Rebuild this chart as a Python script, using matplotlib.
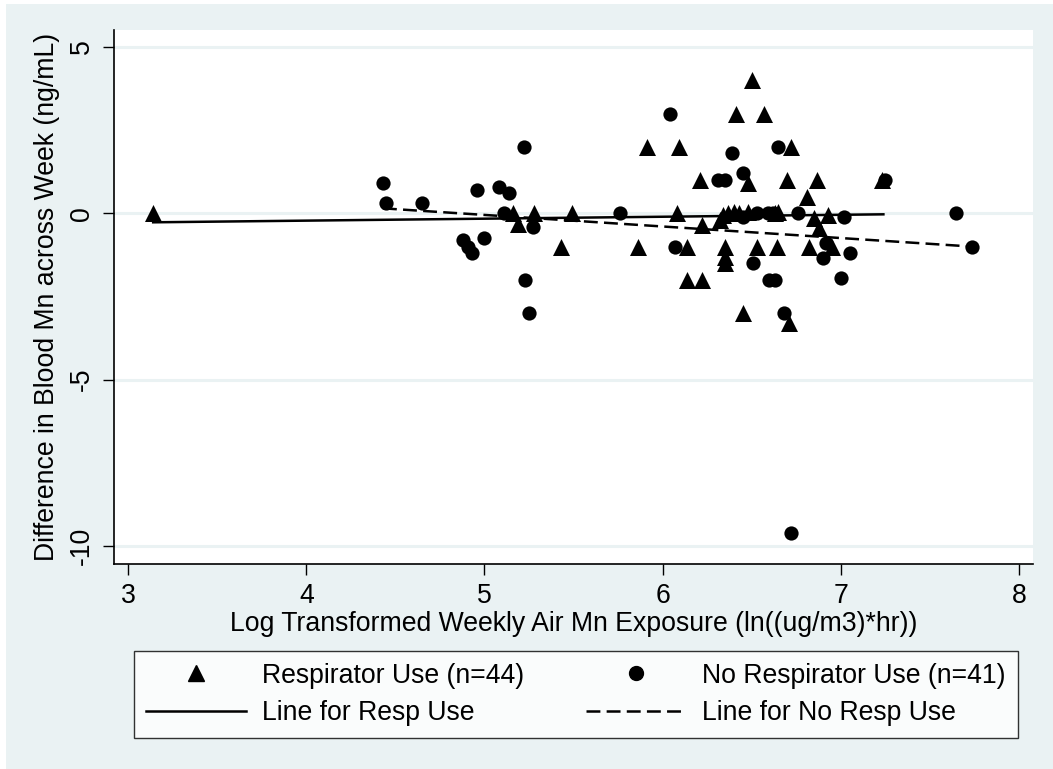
import matplotlib.pyplot as plt
from matplotlib.lines import Line2D
from matplotlib.patches import Rectangle

# respirator use (triangles)
resp_x = [3.14, 5.16, 5.19, 5.28, 5.43, 5.49, 5.86, 5.91, 6.08, 6.09,
          6.14, 6.14, 6.21, 6.22, 6.22, 6.32, 6.34, 6.35, 6.35, 6.35,
          6.37, 6.40, 6.41, 6.43, 6.45, 6.48, 6.48, 6.50, 6.53, 6.57,
          6.63, 6.64, 6.65, 6.70, 6.71, 6.72, 6.81, 6.82, 6.85, 6.87,
          6.88, 6.93, 6.95, 7.23]
resp_y = [0, 0, -0.33, 0, -1, 0, -1, 2, 0, 2,
          -1, -2, 1, -2, -0.35, -0.2, -0.05, -1, -1.3, -1.5,
          0, 0.05, 3, 0, -3, 0.9, 0.05, 4, -1, 3,
          0, -1, 0.05, 1, -3.3, 2, 0.5, -1, -0.15, 1,
          -0.45, -0.05, -1, 1]

# no respirator use (circles)
nores_x = [4.43, 4.45, 4.65, 4.88, 4.91, 4.93, 4.96, 5.00, 5.08, 5.11,
           5.14, 5.22, 5.23, 5.25, 5.27, 5.76, 6.04, 6.07, 6.31, 6.35,
           6.39, 6.45, 6.45, 6.51, 6.53, 6.59, 6.60, 6.62, 6.63, 6.65,
           6.68, 6.72, 6.76, 6.90, 6.92, 7.00, 7.02, 7.05, 7.25, 7.65,
           7.74]
nores_y = [0.9, 0.3, 0.3, -0.8, -1.0, -1.2, 0.7, -0.75, 0.8, 0,
           0.6, 2, -2, -3, -0.4, 0, 3, -1, 1, 1,
           1.8, 1.2, -0.12, -1.5, 0, 0, -2, 0, -2, 2,
           -3, -9.6, 0, -1.35, -0.9, -1.95, -0.12, -1.2, 1, 0,
           -1]

# fitted lines (endpoints)
fit_resp_x = [3.14, 7.24]
fit_resp_y = [-0.27, -0.03]
fit_nores_x = [4.43, 7.74]
fit_nores_y = [0.15, -1.0]

x_ticks = [3, 4, 5, 6, 7, 8]
y_ticks = [5, 0, -5, -10]

bg = '#eaf2f3'
fs = 19.2
plt.rcParams['font.family'] = ['Liberation Sans', 'DejaVu Sans']

fig = plt.figure(figsize=(10.53, 7.69), dpi=100, facecolor='white')
fig.patches.append(Rectangle((6 / 1053, 0), 1, 1 - 4 / 769, transform=fig.transFigure,
                             facecolor=bg, edgecolor='none', zorder=-10))
ax = fig.add_axes([114 / 1053, 1 - 564 / 769, (1033 - 114) / 1053, (564 - 30) / 769])
ax.set_facecolor('white')

for y in y_ticks:
    ax.axhline(y, color=bg, lw=2.2, zorder=0)

lw = 1.8
dash = (0, (10 / lw, 4.5 / lw))
ax.scatter(resp_x, resp_y, marker='^', s=150, color='black', linewidths=0, zorder=3)
ax.scatter(nores_x, nores_y, marker='o', s=105, color='black', linewidths=0, zorder=3)
ax.plot(fit_resp_x, fit_resp_y, color='black', lw=lw, zorder=2)
ax.plot(fit_nores_x, fit_nores_y, color='black', lw=lw, zorder=2, linestyle=dash)

ax.set_xlim(2.92, 8.08)
ax.set_ylim(-10.54, 5.51)
ax.set_xticks(x_ticks)
ax.set_yticks(y_ticks)
ax.set_yticklabels([str(v) for v in y_ticks], rotation=90, va='center')
for s in ['top', 'right']:
    ax.spines[s].set_visible(False)
for s in ['left', 'bottom']:
    ax.spines[s].set_linewidth(1.2)
ax.tick_params(direction='out', length=8, width=1, labelsize=fs, pad=6)
ax.set_xlabel('Log Transformed Weekly Air Mn Exposure (ln((ug/m3)*hr))', fontsize=fs, labelpad=1)
ax.set_ylabel('Difference in Blood Mn across Week (ng/mL)', fontsize=fs, labelpad=6)

handles = [
    Line2D([], [], marker='^', color='black', linestyle='none', markersize=11),
    Line2D([], [], color='black', lw=lw),
    Line2D([], [], marker='o', color='black', linestyle='none', markersize=10),
    Line2D([], [], color='black', lw=lw, linestyle=dash),
]
labels = ['Respirator Use (n=44)', 'Line for Resp Use',
          'No Respirator Use (n=41)', 'Line for No Resp Use']
leg = fig.legend(handles, labels, ncol=2, mode='expand', loc='lower left',
                 bbox_to_anchor=(134 / 1053, 1 - 738 / 769, (1018 - 134) / 1053, (738 - 651) / 769),
                 fontsize=fs, frameon=True, fancybox=False, edgecolor='black',
                 handlelength=3.75, handletextpad=0.6, borderaxespad=0, labelspacing=0.42,
                 borderpad=0.45, columnspacing=1.5)
leg.get_frame().set_linewidth(1.0)

fig.savefig('out.png', dpi=100, facecolor=fig.get_facecolor())
